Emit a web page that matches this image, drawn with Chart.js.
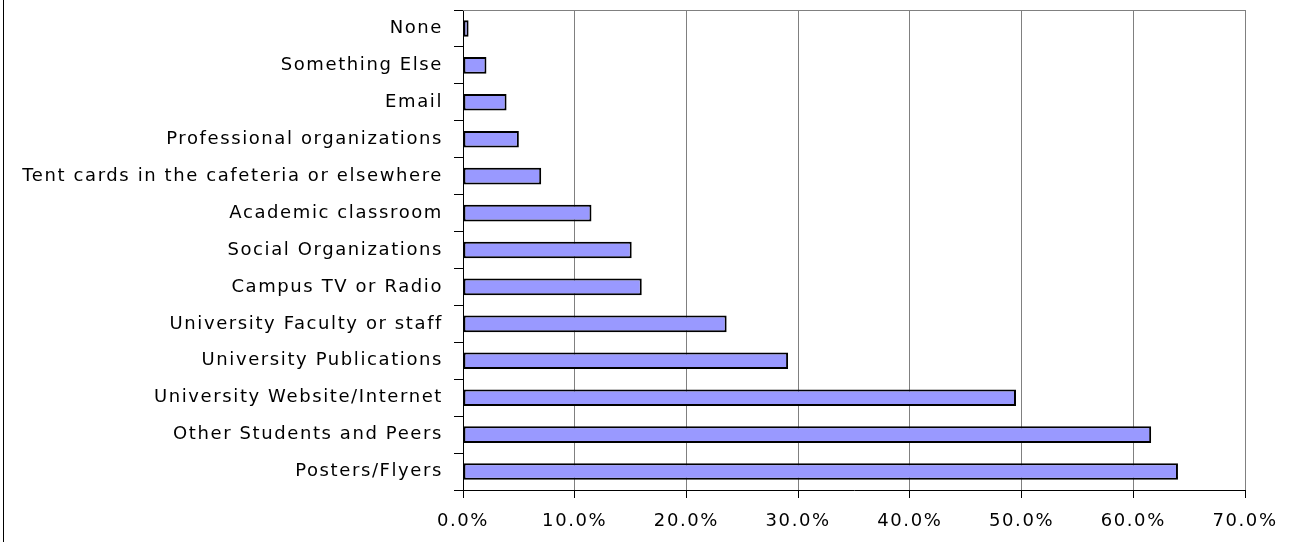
<!DOCTYPE html>
<html>
<head>
<meta charset="utf-8">
<script src="https://cdn.jsdelivr.net/npm/chart.js@4/dist/chart.umd.min.js"></script>
<style>
  html, body { margin: 0; padding: 0; background: #fff; }
  #wrap { position: relative; width: 1291px; height: 542px; }
  #edge { position: absolute; left: 3px; top: 0; width: 1px; height: 542px; background: #000; }
</style>
</head>
<body>
<div id="wrap">
  <canvas id="chart" width="1291" height="542"></canvas>
  <div id="edge"></div>
</div>
<script>
var categories = [
    'None',
    'Something Else',
    'Email',
    'Professional organizations',
    'Tent cards in the cafeteria or elsewhere',
    'Academic classroom',
    'Social Organizations',
    'Campus TV or Radio',
    'University Faculty or staff',
    'University Publications',
    'University Website/Internet',
    'Other Students and Peers',
    'Posters/Flyers'
];
var percentValues = [0.5, 2.1, 3.9, 5.0, 7.0, 11.5, 15.1, 16.0, 23.6, 29.1, 49.5, 61.6, 64.0];
var xTicks = [0, 10, 20, 30, 40, 50, 60, 70];

// wider lettering, closer to the original comic-style font
// (canvas resize wipes context state, so set it again before layout and draw)
function setSpacing(chart) { chart.ctx.letterSpacing = '1.6px'; }
var spacing = {
    id: 'spacing',
    beforeUpdate: setSpacing,
    beforeLayout: setSpacing,
    beforeDraw: setSpacing
};

// top line of plot area (the right one comes from the 70% grid line)
var frameTop = {
    id: 'frameTop',
    beforeDatasetsDraw: function (chart) {
        var a = chart.chartArea, ctx = chart.ctx;
        ctx.save();
        ctx.strokeStyle = '#808080';
        ctx.lineWidth = 1;
        ctx.beginPath();
        ctx.moveTo(a.left, a.top + 0.5);
        ctx.lineTo(a.right, a.top + 0.5);
        ctx.stroke();
        ctx.restore();
    }
};

var font = { family: "'DejaVu Sans', sans-serif", size: 18 };

new Chart(document.getElementById('chart').getContext('2d'), {
    type: 'bar',
    data: {
        labels: categories,
        datasets: [{
            data: percentValues,
            backgroundColor: '#9999FF',
            borderColor: '#000000',
            borderWidth: 2,
            borderSkipped: false,
            barPercentage: 0.45,
            categoryPercentage: 1.0
        }]
    },
    options: {
        indexAxis: 'y',
        responsive: false,
        animation: false,
        layout: { padding: { top: 10, right: 46, left: 0, bottom: 0 } },
        plugins: { legend: { display: false }, tooltip: { enabled: false } },
        scales: {
            x: {
                min: 0,
                max: 70,
                afterBuildTicks: function (scale) {
                    scale.ticks = xTicks.map(function (v) { return { value: v }; });
                },
                afterFit: function (scale) {
                    scale.height = 52;
                    scale.paddingLeft = 0;
                    scale.paddingRight = 0;
                },
                border: { color: '#000', width: 1 },
                grid: { color: '#808080', tickColor: '#000', tickLength: 8, lineWidth: 1 },
                ticks: {
                    color: '#000',
                    font: font,
                    padding: 13,
                    callback: function (v) { return v.toFixed(1) + '%'; }
                }
            },
            y: {
                afterFit: function (scale) {
                    scale.width = 463;
                    scale.paddingTop = 0;
                    scale.paddingBottom = 0;
                },
                border: { color: '#000', width: 1 },
                grid: { drawOnChartArea: false, offset: true, tickColor: '#000', tickLength: 9 },
                ticks: { color: '#000', font: font, padding: 11 }
            }
        }
    },
    plugins: [spacing, frameTop]
});
</script>
</body>
</html>
